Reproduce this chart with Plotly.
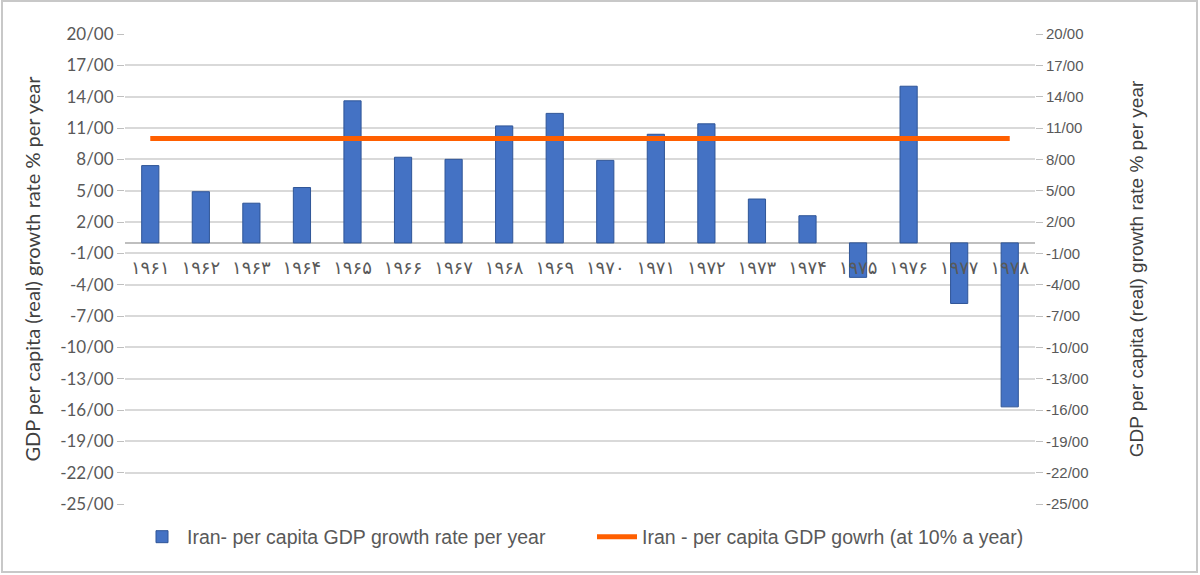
import plotly.graph_objects as go

years = ["۱۹۶۱", "۱۹۶۲", "۱۹۶۳", "۱۹۶۴", "۱۹۶۵", "۱۹۶۶", "۱۹۶۷", "۱۹۶۸", "۱۹۶۹",
         "۱۹۷۰", "۱۹۷۱", "۱۹۷۲", "۱۹۷۳", "۱۹۷۴", "۱۹۷۵", "۱۹۷۶", "۱۹۷۷", "۱۹۷۸"]
growth = [7.4, 4.9, 3.8, 5.3, 13.6, 8.2, 8.0, 11.2, 12.4,
          7.9, 10.4, 11.4, 4.2, 2.6, -3.3, 15.0, -5.8, -15.7]
target = [10] * len(years)

tick_vals = [20, 17, 14, 11, 8, 5, 2, -1, -4, -7, -10, -13, -16, -19, -22, -25]
tick_text = ["20/00", "17/00", "14/00", "11/00", "8/00", "5/00", "2/00", "-1/00", "-4/00",
             "-7/00", "-10/00", "-13/00", "-16/00", "-19/00", "-22/00", "-25/00"]

bar_name = "Iran- per capita GDP growth rate per year"
line_name = "Iran - per capita GDP gowrh (at 10% a year)"
axis_title = "GDP per capita (real) growth rate % per year"

grey = "#595959"
fig = go.Figure()
fig.add_trace(go.Bar(x=years, y=growth, name=bar_name,
                     marker=dict(color="#4472C4", line=dict(color="#2F5597", width=1)),
                     yaxis="y"))
fig.add_trace(go.Scatter(x=years, y=target, name=line_name, mode="lines",
                         line=dict(color="#FF5F00", width=5), yaxis="y2"))

L, R, T, B = 125, 165, 34, 71
W, H = 1200, 575
pw, ph = W - L - R, H - T - B

fig.update_layout(
    width=W, height=H,
    margin=dict(l=L, r=R, t=T, b=B, autoexpand=False),
    paper_bgcolor="white", plot_bgcolor="white",
    bargap=0.66,
    showlegend=True,
    legend=dict(orientation="h", x=12 / pw, y=-33 / ph, xanchor="left", yanchor="middle",
                font=dict(family="Liberation Sans, Arial", size=19.5, color=grey),
                itemwidth=40, traceorder="normal",
                entrywidth=400, entrywidthmode="pixels"),
    xaxis=dict(type="category", anchor="free", position=25 / 45,
               showgrid=False, showline=False, ticks="",
               tickfont=dict(family="DejaVu Sans", size=18, color=grey),
               ticklabelstandoff=12, tickangle=0, automargin=False),
    yaxis=dict(range=[-25, 20], tickvals=tick_vals, ticktext=tick_text,
               showgrid=True, gridcolor="#D9D9D9", gridwidth=1.5,
               zeroline=True, zerolinecolor="#BFBFBF", zerolinewidth=1.5,
               ticks="outside", ticklen=7, tickcolor="#BFBFBF",
               tickfont=dict(family="Lato, Liberation Sans", size=17, color=grey),
               automargin=False,
               title=dict(text=axis_title, font=dict(family="Lato, Liberation Sans", size=20, color="#404040"),
                          standoff=14)),
    yaxis2=dict(range=[-25, 20], tickvals=tick_vals, ticktext=tick_text, overlaying="y", side="right",
                showgrid=False, zeroline=False,
                ticks="outside", ticklen=7, tickcolor="#BFBFBF",
                tickfont=dict(family="Liberation Sans", size=15, color=grey),
                automargin=False,
                title=dict(text=axis_title, font=dict(family="Liberation Sans", size=19, color="#404040"),
                           standoff=42)),
)

# outer chart frame
fig.add_shape(type="rect", xref="paper", yref="paper",
              x0=(2 - L) / pw, x1=(W - 3 - L) / pw,
              y0=(H - B - (H - 3)) / ph, y1=(H - B - 1) / ph,
              line=dict(color="#C8C8C8", width=2), fillcolor="rgba(0,0,0,0)", layer="below")

fig.write_html("out.html", config={"displayModeBar": False},
               post_script="document.body.style.margin='0';")
